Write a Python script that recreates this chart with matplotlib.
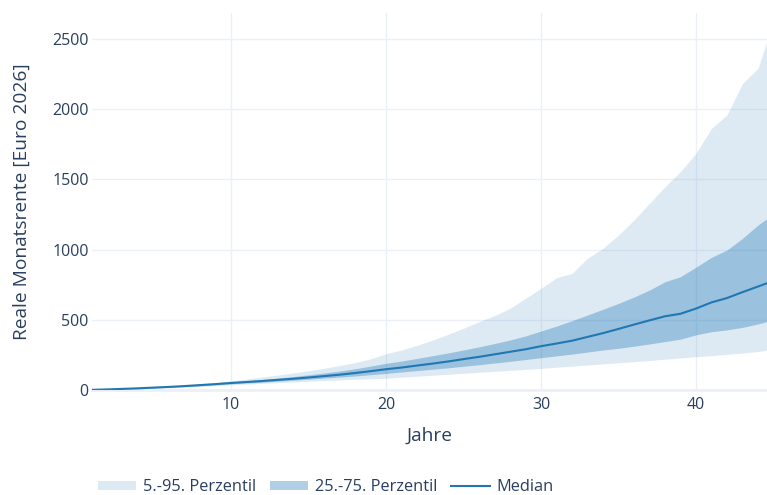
import matplotlib
matplotlib.use("Agg")
import matplotlib.pyplot as plt
from matplotlib.patches import Patch
from matplotlib.lines import Line2D

# Simulated real monthly pension by year (percentile bands)
jahre = list(range(1, 46))
p05 = [0, 3, 6, 9, 12, 16, 20, 25, 31, 37, 42, 47, 52, 57, 62, 67, 72, 77, 80, 84,
       91, 98, 105, 112, 119, 126, 133, 140, 147, 154, 162, 170, 178, 186, 194, 202, 210, 219, 228, 237,
       245, 254, 263, 274, 290]
p25 = [1, 4, 7, 10, 15, 19, 24, 30, 37, 44, 50, 56, 63, 70, 77, 85, 92, 100, 109, 118,
       128, 138, 148, 158, 169, 180, 192, 204, 217, 230, 243, 256, 270, 285, 297, 312, 328, 345, 362, 393,
       415, 428, 446, 470, 500]
median = [1, 4, 8, 12, 17, 22, 28, 35, 42, 50, 57, 64, 72, 80, 89, 99, 109, 121, 134, 148,
          160, 174, 188, 203, 220, 236, 254, 272, 290, 312, 331, 351, 378, 405, 435, 466, 496, 525, 543, 580,
          624, 655, 697, 737, 778]
p75 = [1, 4, 8, 13, 18, 24, 31, 39, 48, 57, 66, 75, 85, 96, 108, 121, 135, 151, 170, 190,
       206, 225, 244, 264, 285, 307, 331, 356, 385, 420, 455, 494, 534, 575, 617, 662, 712, 771, 807, 875,
       945, 997, 1080, 1175, 1255]
p95 = [1, 4, 8, 13, 19, 26, 34, 43, 53, 66, 78, 92, 106, 121, 137, 155, 174, 195, 222, 258,
       285, 318, 355, 396, 440, 486, 530, 582, 653, 724, 800, 831, 938, 1009, 1104, 1211, 1330, 1448, 1555, 1686,
       1864, 1959, 2184, 2291, 2625]

x_ticks = [10, 20, 30, 40]
y_ticks = [0, 500, 1000, 1500, 2000, 2500]

BLUE = "#1f77b4"
TEXT = "#2a3f5f"
GRID = "#ebf0f8"
light = (31 / 255, 119 / 255, 180 / 255, 0.15)
dark = (31 / 255, 119 / 255, 180 / 255, 0.35)

plt.rcParams["font.family"] = ["Open Sans", "DejaVu Sans"]

fig = plt.figure(figsize=(7.67, 4.95), dpi=100)
ax = fig.add_axes([91.5 / 767, 105 / 495, 675.5 / 767, 377 / 495])

ax.fill_between(jahre, p05, p95, color=light, linewidth=0, zorder=2)
ax.fill_between(jahre, p25, p75, color=dark, linewidth=0, zorder=3)
ax.plot(jahre, median, color=BLUE, linewidth=1.5, zorder=4)

ax.set_xlim(1, 44.58)
ax.set_ylim(0, 2685)
ax.set_xticks(x_ticks)
ax.set_yticks(y_ticks)
ax.grid(True, color=GRID, linewidth=1.0, zorder=0)
ax.set_axisbelow(True)
ax.axhline(0, color=GRID, linewidth=2.0, zorder=1, clip_on=False)
for s in ax.spines.values():
    s.set_visible(False)
ax.tick_params(axis="both", length=0, labelsize=11.5, labelcolor=TEXT)
ax.tick_params(axis="y", pad=2)
ax.tick_params(axis="x", pad=5)

ax.set_xlabel("Jahre", fontsize=13.8, color=TEXT, va="center")
ax.xaxis.set_label_coords(0.5, -46 / 377)
ax.set_ylabel("Reale Monatsrente [Euro 2026]", fontsize=13.8, color=TEXT, va="center")
ax.yaxis.set_label_coords(-(91.5 - 21.7) / 675.5, 0.5)

handles = [
    Patch(facecolor=light, edgecolor="none", label="5.-95. Perzentil"),
    Patch(facecolor=dark, edgecolor="none", label="25.-75. Perzentil"),
    Line2D([0], [0], color=BLUE, linewidth=1.5, label="Median"),
]
leg = fig.legend(handles=handles, loc="center left", ncol=3, frameon=False,
                 bbox_to_anchor=(97.5 / 767, 1 - 487 / 495), borderpad=0, borderaxespad=0,
                 handlelength=2.35, handleheight=0.5, handletextpad=0.4, columnspacing=0.85,
                 prop={"size": 11.8})
for t in leg.get_texts():
    t.set_color(TEXT)

fig.savefig("out.png", dpi=100)
